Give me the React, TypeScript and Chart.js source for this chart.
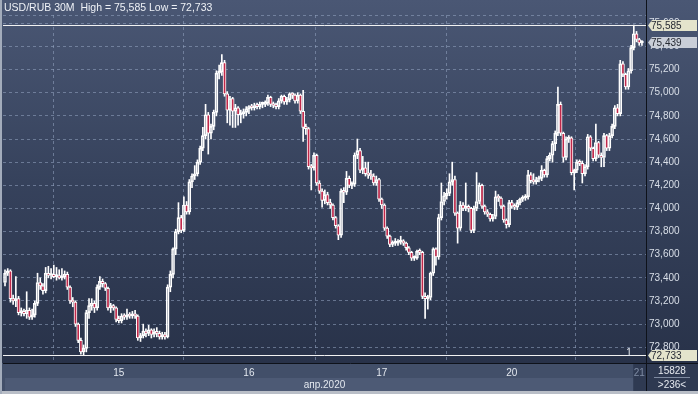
import React, { useEffect, useRef } from 'react';
import { Chart, registerables } from 'chart.js';

Chart.register(...registerables);

const symbolTitle = 'USD/RUB 30M';
const monthLabel = 'апр.2020';
const dayLabels = ['15', '16', '17', '20', '21'];
const dayStarts = [42, 90, 139, 187, 234];
const yTicks = [72.8, 73.0, 73.2, 73.4, 73.6, 73.8, 74.0, 74.2, 74.4, 74.6, 74.8, 75.0, 75.2, 75.4, 75.6];
const yMin = 72.664;
const yMax = 75.672;
const xMin = -0.74;
const xMax = 236.5;
const volumeText = '15828';
const barsText = '>236<';
const markerCount = '1';

const opens = [
  73.36, 73.44, 73.46, 73.22, 73.20, 73.22, 73.10, 73.11, 73.09, 73.12,
  73.06, 73.08, 73.18, 73.36, 73.33, 73.29, 73.44, 73.42, 73.43, 73.41,
  73.42, 73.40, 73.41, 73.43, 73.32, 73.20, 73.19, 73.00, 72.86, 72.76,
  72.79, 73.10, 73.16, 73.18, 73.14, 73.32, 73.37, 73.35, 73.31, 73.14,
  73.16, 73.14,
  73.04, 73.03, 73.07, 73.06, 73.08, 73.07, 73.09, 73.07, 72.88, 72.90,
  72.94, 72.92, 72.95, 72.91, 72.93, 72.92, 72.89, 72.91, 72.89, 73.32,
  73.43, 73.65, 73.80, 73.92, 73.81, 74.03, 73.97, 74.23, 74.28, 74.30,
  74.40, 74.52, 74.63, 74.81, 74.65, 74.71, 74.83, 75.17, 75.18, 75.26,
  74.99, 74.85, 74.95, 74.84, 74.87, 74.81, 74.82, 74.83,
  74.86, 74.88, 74.87, 74.89, 74.88, 74.90, 74.90, 74.91, 74.96, 74.90,
  74.89, 74.88, 74.93, 74.97, 74.92, 74.94, 74.99, 74.98, 74.93, 74.98,
  74.84, 74.70, 74.69, 74.36, 74.35, 74.46, 74.22, 74.15, 74.07, 74.12,
  74.05, 74.03, 73.92, 73.85, 73.77, 74.15, 74.14, 74.26, 74.20, 74.21,
  74.46, 74.50, 74.33, 74.35, 74.30, 74.29, 74.28, 74.22,
  74.25, 74.08, 74.03, 73.83, 73.76, 73.69, 73.70, 73.70, 73.71, 73.72,
  73.70, 73.66, 73.62, 73.57, 73.57, 73.63, 73.62, 73.24, 73.22, 73.23,
  73.44, 73.65, 73.58, 73.92, 74.06, 74.11, 74.13, 74.23, 74.25, 73.96,
  73.83, 74.03, 74.00, 74.01, 74.00, 73.81, 74.00, 74.06, 74.20, 74.02,
  73.97, 73.95, 73.91, 73.93, 74.10, 74.09, 74.02, 73.90,
  73.86, 74.05, 74.02, 74.01, 74.05, 74.08, 74.09, 74.10, 74.29, 74.24,
  74.23, 74.25, 74.26, 74.33, 74.29, 74.43, 74.46, 74.56, 74.65, 74.90,
  74.65, 74.44, 74.60, 74.61, 74.31, 74.33, 74.40, 74.39, 74.30, 74.36,
  74.62, 74.52, 74.43, 74.57, 74.46, 74.44, 74.63, 74.52, 74.63, 74.71,
  74.87, 74.82, 75.25, 75.16, 75.05, 75.19, 75.39, 75.51,
  75.46, 75.43,
];

const highs = [
  73.47, 73.48, 73.47, 73.25, 73.41, 73.24, 73.14, 73.13, 73.28, 73.14,
  73.13, 73.20, 73.44, 73.40, 73.35, 73.49, 73.50, 73.48, 73.51, 73.49,
  73.47, 73.48, 73.46, 73.45, 73.33, 73.23, 73.20, 73.01, 72.88, 72.82,
  73.12, 73.22, 73.22, 73.20, 73.34, 73.41, 73.39, 73.36, 73.32, 73.18,
  73.17, 73.15,
  73.07, 73.09, 73.09, 73.13, 73.10, 73.11, 73.12, 73.08, 72.92, 73.00,
  72.96, 72.99, 72.96, 72.96, 72.97, 72.94, 72.93, 72.93, 73.34, 73.46,
  73.66, 73.82, 74.05, 73.94, 74.10, 74.06, 74.25, 74.30, 74.37, 74.42,
  74.54, 74.70, 74.90, 74.83, 74.73, 74.85, 75.19, 75.24, 75.33, 75.28,
  75.01, 74.97, 74.96, 74.90, 74.88, 74.85, 74.86, 74.88,
  74.89, 74.90, 74.91, 74.91, 74.92, 74.92, 74.93, 74.98, 74.97, 74.92,
  74.91, 74.95, 74.98, 74.98, 74.96, 75.00, 75.00, 74.99, 75.00, 74.99,
  75.02, 74.73, 74.70, 74.38, 74.48, 74.47, 74.24, 74.17, 74.16, 74.14,
  74.08, 74.04, 73.93, 73.86, 74.17, 74.18, 74.32, 74.28, 74.23, 74.48,
  74.60, 74.52, 74.45, 74.40, 74.40, 74.33, 74.30, 74.28,
  74.26, 74.09, 74.04, 73.84, 73.77, 73.72, 73.74, 73.73, 73.76, 73.73,
  73.71, 73.67, 73.63, 73.59, 73.64, 73.65, 73.63, 73.27, 73.25, 73.45,
  73.66, 73.66, 73.95, 74.22, 74.14, 74.17, 74.30, 74.40, 74.28, 73.97,
  74.06, 74.05, 74.22, 74.03, 74.01, 74.02, 74.31, 74.22, 74.21, 74.03,
  73.99, 73.96, 73.95, 74.15, 74.12, 74.10, 74.03, 73.91,
  74.07, 74.07, 74.04, 74.07, 74.09, 74.11, 74.12, 74.33, 74.31, 74.30,
  74.27, 74.28, 74.37, 74.34, 74.45, 74.48, 74.58, 74.67, 75.05, 74.92,
  74.66, 74.62, 74.63, 74.62, 74.34, 74.42, 74.42, 74.41, 74.38, 74.64,
  74.63, 74.53, 74.73, 74.58, 74.48, 74.65, 74.64, 74.65, 74.73, 74.89,
  74.90, 75.28, 75.27, 75.17, 75.21, 75.41, 75.585, 75.53,
  75.47, 75.45,
];

const lows = [
  73.33, 73.42, 73.19, 73.17, 73.15, 73.08, 73.07, 73.07, 73.05, 73.04,
  73.04, 73.06, 73.16, 73.30, 73.26, 73.27, 73.40, 73.39, 73.40, 73.38,
  73.39, 73.38, 73.39, 73.30, 73.18, 73.15, 72.98, 72.84, 72.74, 72.733,
  72.76, 73.05, 73.12, 73.10, 73.12, 73.30, 73.32, 73.29, 73.12, 73.10,
  73.12, 73.02,
  73.01, 73.01, 73.04, 73.04, 73.05, 73.05, 73.05, 72.86, 72.85, 72.88,
  72.89, 72.90, 72.88, 72.89, 72.89, 72.87, 72.87, 72.87, 72.88, 73.28,
  73.40, 73.60, 73.78, 73.79, 73.80, 73.95, 73.95, 74.18, 74.25, 74.28,
  74.38, 74.50, 74.60, 74.47, 74.60, 74.68, 74.80, 75.12, 75.15, 74.97,
  74.74, 74.72, 74.70, 74.70, 74.72, 74.74, 74.78, 74.80,
  74.82, 74.85, 74.85, 74.86, 74.86, 74.87, 74.88, 74.89, 74.88, 74.87,
  74.86, 74.86, 74.91, 74.90, 74.90, 74.92, 74.95, 74.91, 74.91, 74.82,
  74.58, 74.64, 74.34, 74.16, 74.33, 74.20, 74.13, 74.01, 74.04, 74.03,
  74.00, 73.90, 73.83, 73.73, 73.75, 74.05, 74.12, 74.18, 74.17, 74.19,
  74.43, 74.31, 74.30, 74.28, 74.26, 74.25, 74.20, 74.20,
  74.06, 74.00, 73.81, 73.74, 73.67, 73.67, 73.68, 73.68, 73.69, 73.68,
  73.64, 73.60, 73.55, 73.55, 73.56, 73.60, 73.22, 73.05, 73.13, 73.21,
  73.42, 73.51, 73.56, 73.90, 74.03, 74.08, 74.11, 74.20, 73.94, 73.70,
  73.81, 73.98, 73.98, 73.97, 73.79, 73.79, 73.98, 74.04, 74.00, 73.95,
  73.93, 73.89, 73.89, 73.91, 74.06, 74.00, 73.88, 73.83,
  73.84, 74.00, 73.99, 73.99, 74.03, 74.06, 74.07, 74.08, 74.22, 74.21,
  74.21, 74.23, 74.24, 74.27, 74.27, 74.41, 74.40, 74.50, 74.63, 74.63,
  74.40, 74.42, 74.57, 74.29, 74.16, 74.31, 74.37, 74.22, 74.28, 74.34,
  74.50, 74.41, 74.41, 74.44, 74.36, 74.36, 74.50, 74.50, 74.61, 74.69,
  74.80, 74.80, 75.14, 75.03, 75.03, 75.17, 75.37, 75.44,
  75.41, 75.41,
];

const closes = [
  73.44, 73.46, 73.22, 73.20, 73.22, 73.10, 73.11, 73.09, 73.12, 73.06,
  73.08, 73.18, 73.36, 73.33, 73.29, 73.44, 73.42, 73.43, 73.41, 73.42,
  73.40, 73.41, 73.43, 73.32, 73.20, 73.19, 73.00, 72.86, 72.76, 72.79,
  73.10, 73.16, 73.18, 73.14, 73.32, 73.37, 73.35, 73.31, 73.14, 73.16,
  73.14, 73.04,
  73.03, 73.07, 73.06, 73.08, 73.07, 73.09, 73.07, 72.88, 72.90, 72.94,
  72.92, 72.95, 72.91, 72.93, 72.92, 72.89, 72.91, 72.89, 73.32, 73.43,
  73.65, 73.80, 73.92, 73.81, 74.03, 73.97, 74.23, 74.28, 74.30, 74.40,
  74.52, 74.63, 74.81, 74.65, 74.71, 74.83, 75.17, 75.18, 75.26, 74.99,
  74.85, 74.95, 74.84, 74.87, 74.81, 74.82, 74.83, 74.86,
  74.88, 74.87, 74.89, 74.88, 74.90, 74.90, 74.91, 74.96, 74.90, 74.89,
  74.88, 74.93, 74.97, 74.92, 74.94, 74.99, 74.98, 74.93, 74.98, 74.84,
  74.70, 74.69, 74.36, 74.35, 74.46, 74.22, 74.15, 74.07, 74.12, 74.05,
  74.03, 73.92, 73.85, 73.77, 74.15, 74.14, 74.26, 74.20, 74.21, 74.46,
  74.50, 74.33, 74.35, 74.30, 74.29, 74.28, 74.22, 74.25,
  74.08, 74.03, 73.83, 73.76, 73.69, 73.70, 73.70, 73.71, 73.72, 73.70,
  73.66, 73.62, 73.57, 73.57, 73.63, 73.62, 73.24, 73.22, 73.23, 73.44,
  73.65, 73.58, 73.92, 74.06, 74.11, 74.13, 74.23, 74.25, 73.96, 73.83,
  74.03, 74.00, 74.01, 74.00, 73.81, 74.00, 74.06, 74.20, 74.02, 73.97,
  73.95, 73.91, 73.93, 74.10, 74.09, 74.02, 73.90, 73.86,
  74.05, 74.02, 74.01, 74.05, 74.08, 74.09, 74.10, 74.29, 74.24, 74.23,
  74.25, 74.26, 74.33, 74.29, 74.43, 74.46, 74.56, 74.65, 74.90, 74.65,
  74.44, 74.60, 74.61, 74.31, 74.33, 74.40, 74.39, 74.30, 74.36, 74.62,
  74.52, 74.43, 74.57, 74.46, 74.44, 74.63, 74.52, 74.63, 74.71, 74.87,
  74.82, 75.25, 75.16, 75.05, 75.19, 75.39, 75.51, 75.46,
  75.43, 75.439,
];

const FONT = "'Liberation Sans', Arial, sans-serif";
const fmt = (v: number) => v.toFixed(3).replace('.', ',');

export default function App() {
  const ref = useRef<HTMLCanvasElement | null>(null);

  useEffect(() => {
    document.body.style.margin = '0';
    document.body.style.background = '#2b3550';
    const canvas = ref.current;
    if (!canvas) return;

    const idx = closes.map((_, i) => i);
    const bodies = idx.map((i) => ({ x: i, y: [opens[i], closes[i]] }));
    const upperWicks = idx.map((i) => ({ x: i, y: [Math.max(opens[i], closes[i]), highs[i]] }));
    const lowerWicks = idx.map((i) => ({ x: i, y: [lows[i], Math.min(opens[i], closes[i])] }));
    const hi = Math.max(...highs);
    const lo = Math.min(...lows);
    const last = closes[closes.length - 1];

    const decor = {
      id: 'decor',
      beforeDraw(chart: any) {
        const { ctx, width, height, chartArea: ca } = chart;
        ctx.save();
        const g = ctx.createLinearGradient(0, 0, 0, ca.bottom);
        g.addColorStop(0, '#4a5774');
        g.addColorStop(0.5, '#36425c');
        g.addColorStop(1, '#283249');
        ctx.fillStyle = g;
        ctx.fillRect(0, 0, width, ca.bottom);
        // x-axis area
        ctx.fillStyle = '#424f69';
        ctx.fillRect(0, ca.bottom, width, height - ca.bottom);
        ctx.fillStyle = '#4d5a75';
        ctx.fillRect(ca.left + 2, ca.bottom + 15, ca.right - ca.left - 2, height - ca.bottom - 18);
        ctx.fillStyle = '#b9bec7';
        ctx.fillRect(0, height - 3, width, 3);
        // last-day label box
        const xs = chart.scales.x;
        const xl = xs.getPixelForValue(dayStarts[dayStarts.length - 1]);
        ctx.fillStyle = '#2f3a52';
        ctx.fillRect(xl - 6, ca.bottom + 1, ca.right - xl + 6, height - ca.bottom - 4);
        // right-bottom box
        ctx.fillStyle = '#2e3951';
        ctx.fillRect(ca.right, ca.bottom, width - ca.right, height - ca.bottom - 3);
        // left frame strip
        ctx.fillStyle = '#a3acbb';
        ctx.fillRect(0, 0, 2, height);
        // top dashed separator
        ctx.strokeStyle = 'rgba(150,165,195,0.55)';
        ctx.setLineDash([3, 3]);
        ctx.lineWidth = 1;
        ctx.beginPath();
        ctx.moveTo(ca.left, ca.top + 0.5);
        ctx.lineTo(ca.right, ca.top + 0.5);
        ctx.stroke();
        ctx.restore();
      },
      afterDatasetsDraw(chart: any) {
        const { ctx, chartArea: ca } = chart;
        const ys = chart.scales.y;
        ctx.save();
        ctx.strokeStyle = '#f2f2f2';
        ctx.lineWidth = 1;
        [hi, lo].forEach((v) => {
          const y = Math.round(ys.getPixelForValue(v)) + 0.5;
          ctx.beginPath();
          ctx.moveTo(ca.left, y);
          ctx.lineTo(ca.right, y);
          ctx.stroke();
        });
        ctx.restore();
      },
      afterDraw(chart: any) {
        const { ctx, width, height, chartArea: ca } = chart;
        const ys = chart.scales.y;
        ctx.save();
        // borders
        ctx.strokeStyle = '#0e121a';
        ctx.lineWidth = 1;
        ctx.beginPath();
        ctx.moveTo(ca.right + 0.5, 0);
        ctx.lineTo(ca.right + 0.5, height - 3);
        ctx.moveTo(ca.left, ca.bottom + 0.5);
        ctx.lineTo(width, ca.bottom + 0.5);
        ctx.stroke();
        // title
        ctx.fillStyle = '#eef1f6';
        ctx.font = `10.5px ${FONT}`;
        ctx.textBaseline = 'middle';
        ctx.textAlign = 'left';
        ctx.fillText(`${symbolTitle}  High = ${fmt(hi)} Low = ${fmt(lo)}`, 4, 8);
        // markers
        const marker = (v: number, bg: string) => {
          const y = Math.round(ys.getPixelForValue(v));
          ctx.fillStyle = bg;
          ctx.beginPath();
          ctx.moveTo(ca.right + 2, y + 0.5);
          ctx.lineTo(ca.right + 6, y - 5);
          ctx.lineTo(width - 1, y - 5);
          ctx.lineTo(width - 1, y + 6);
          ctx.lineTo(ca.right + 6, y + 6);
          ctx.closePath();
          ctx.fill();
          ctx.fillStyle = '#262a33';
          ctx.font = `10px ${FONT}`;
          ctx.textAlign = 'left';
          ctx.textBaseline = 'middle';
          ctx.fillText(fmt(v), ca.right + 5, y + 1);
        };
        marker(hi, '#e4e4cc');
        marker(last, '#c9ced8');
        marker(lo, '#e4e4cc');
        // small count label
        ctx.fillStyle = '#e8ecf2';
        ctx.font = `10px ${FONT}`;
        ctx.textAlign = 'center';
        ctx.fillText(markerCount, ca.right - 17, ys.getPixelForValue(lo) + 2 - 4);
        // right-bottom box texts
        const cx = (ca.right + width) / 2;
        ctx.fillStyle = '#e6eaf0';
        ctx.textBaseline = 'middle';
        ctx.fillText(volumeText, cx, ca.bottom + 8);
        ctx.fillText(barsText, cx, ca.bottom + 22);
        ctx.strokeStyle = '#7e8aa0';
        ctx.beginPath();
        ctx.moveTo(ca.right + 8, ca.bottom + 14.5);
        ctx.lineTo(width - 8, ca.bottom + 14.5);
        ctx.stroke();
        ctx.restore();
      },
    };

    const chart = new Chart(canvas, {
      type: 'bar',
      data: {
        datasets: [
          {
            label: 'body',
            data: bodies as any,
            barThickness: 3,
            minBarLength: 2,
            borderWidth: 1,
            borderSkipped: false,
            borderColor: '#ffffff',
            backgroundColor: (c: any) => {
              const i = c.dataIndex;
              return closes[i] < opens[i] ? '#c0284a' : 'rgba(0,0,0,0)';
            },
            grouped: false,
          } as any,
          {
            label: 'upper',
            data: upperWicks as any,
            barThickness: 1,
            backgroundColor: '#ffffff',
            borderWidth: 0,
            grouped: false,
          } as any,
          {
            label: 'lower',
            data: lowerWicks as any,
            barThickness: 1,
            backgroundColor: '#ffffff',
            borderWidth: 0,
            grouped: false,
          } as any,
        ],
      },
      options: {
        responsive: false,
        animation: false,
        events: [],
        layout: { padding: { left: 3, top: 15, right: 0, bottom: 0 } },
        plugins: { legend: { display: false }, tooltip: { enabled: false }, title: { display: false } },
        scales: {
          x: {
            type: 'linear',
            min: xMin,
            max: xMax,
            offset: false,
            afterFit: (s: any) => {
              s.height = 31;
            },
            afterBuildTicks: (s: any) => {
              s.ticks = dayStarts.map((v) => ({ value: v }));
            },
            grid: { color: 'rgba(150,165,195,0.55)', drawTicks: false, lineWidth: 1 },
            border: { display: false, dash: [3, 3] },
            ticks: {
              autoSkip: false,
              maxRotation: 0,
              padding: 4,
              color: (c: any) => (c.index === dayLabels.length - 1 ? '#7f8ca4' : '#e3e8ef'),
              font: { family: FONT, size: 10 },
              callback: (_v: any, i: number) => dayLabels[i],
            },
            title: {
              display: true,
              text: monthLabel,
              color: '#e3e8ef',
              font: { family: FONT, size: 10 },
              padding: { top: 0, bottom: 3 },
            },
          },
          y: {
            type: 'linear',
            position: 'right',
            min: yMin,
            max: yMax,
            afterFit: (s: any) => {
              s.width = 52;
            },
            afterBuildTicks: (s: any) => {
              s.ticks = yTicks.map((v) => ({ value: v }));
            },
            grid: { color: 'rgba(150,165,195,0.55)', drawTicks: false, lineWidth: 1 },
            border: { display: false, dash: [3, 3] },
            ticks: {
              padding: 3,
              color: '#d9dfe8',
              font: { family: FONT, size: 10 },
              callback: (v: any) => fmt(Number(v)),
            },
          },
        },
      },
      plugins: [decor],
    });

    return () => chart.destroy();
  }, []);

  return (
    <div style={{ width: 698, height: 394 }}>
      <canvas ref={ref} width={698} height={394} style={{ display: 'block', width: 698, height: 394 }} />
    </div>
  );
}
